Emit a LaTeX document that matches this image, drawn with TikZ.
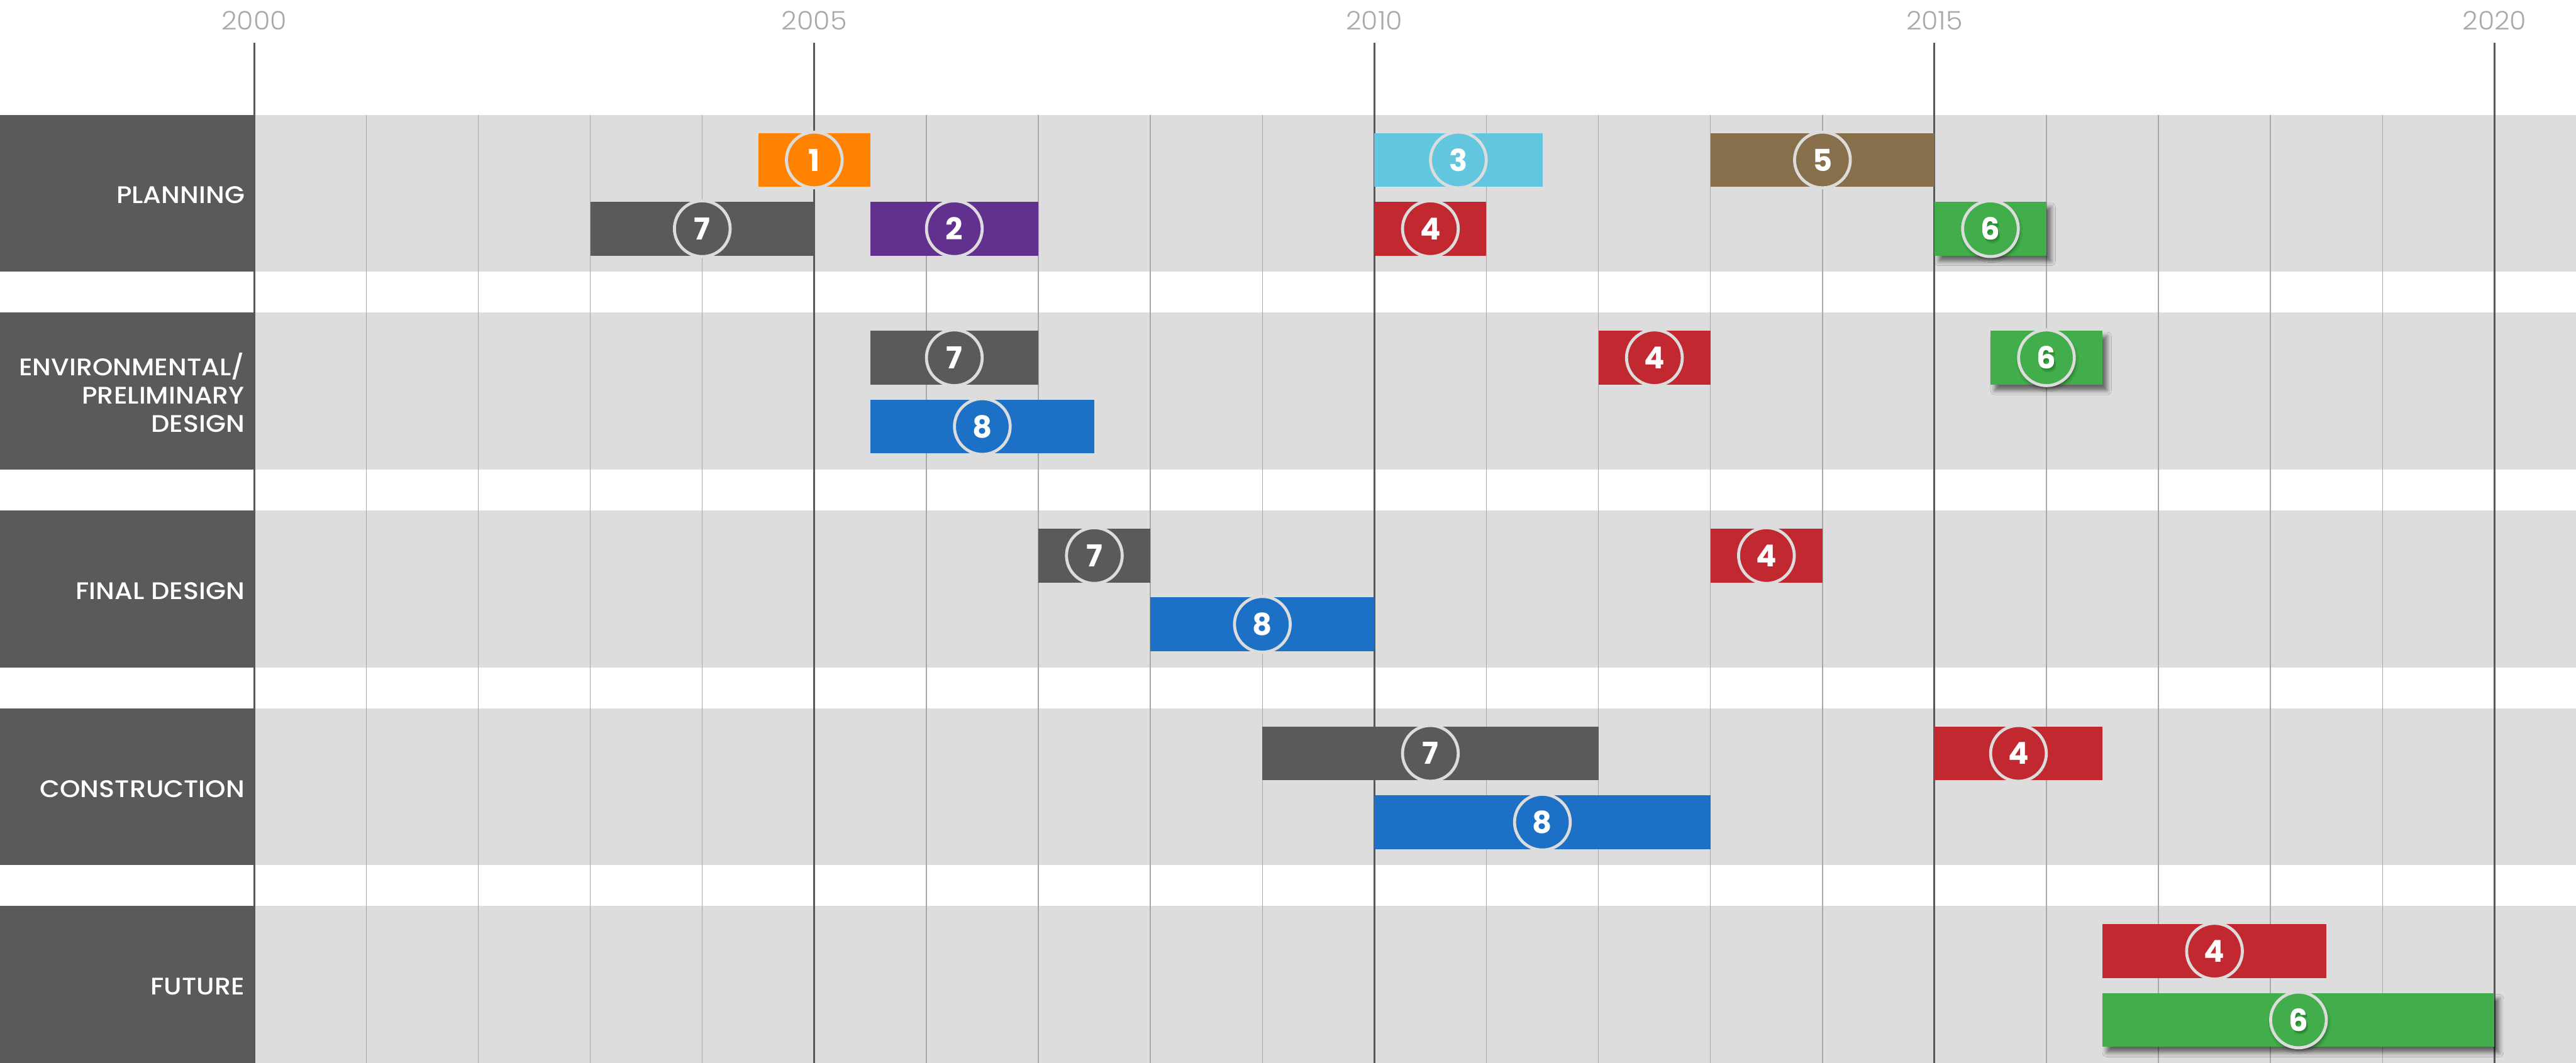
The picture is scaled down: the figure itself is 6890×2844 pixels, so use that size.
\documentclass[tikz,border=0pt]{standalone}
\usepackage{fontspec}
\setmainfont{Poppins}
\newfontfamily\yearfont{Poppins Light}[FakeStretch=1.05]
\newfontfamily\labfont{Poppins Medium}[FakeStretch=1.08]
\newfontfamily\numfont{Poppins Bold}
\usetikzlibrary{shadows.blur}
\definecolor{corange}{HTML}{FF8200}
\definecolor{cpurple}{HTML}{62308F}
\definecolor{ccyan}{HTML}{62C6DF}
\definecolor{cbrown}{HTML}{876F4B}
\definecolor{cred}{HTML}{C12830}
\definecolor{cgreen}{HTML}{41AE4B}
\definecolor{cblue}{HTML}{1C70C6}
\definecolor{cgray}{HTML}{5A5A5C}
\definecolor{bandgray}{HTML}{DDDDDD}
\definecolor{ringgray}{HTML}{DCDCDC}
\definecolor{yeargray}{HTML}{A7A9AC}
\definecolor{thingray}{HTML}{A8A8A8}
\definecolor{thickgray}{HTML}{58585A}
\tikzset{
  barbox/.style={rectangle, inner sep=0pt, minimum height=1.44cm},
  numtext/.style={text=white, font=\numfont\fontsize{23}{23}\selectfont},
  badge/.style={circle, inner sep=0pt, minimum size=1.49cm, draw=ringgray, line width=0.08cm, numtext},
  drop/.style={blur shadow={shadow xshift=0.12cm, shadow yshift=-0.15cm, shadow blur radius=0.12cm, shadow opacity=55}},
  dropc/.style={blur shadow={shadow xshift=0.03cm, shadow yshift=-0.08cm, shadow blur radius=0.08cm, shadow opacity=45}},
  digshade/.style={inner sep=0pt, font=\numfont\fontsize{23}{23}\selectfont, text=black!70!green},
  rowlabel/.style={anchor=east, inner sep=0pt, text=white, align=right, font=\labfont\fontsize{18.3}{21.5}\selectfont},
  yearlab/.style={inner sep=0pt, text=yeargray, font=\yearfont\fontsize{19.5}{19.5}\selectfont},
  thinline/.style={draw=thingray, line width=0.025cm},
  thickline/.style={draw=thickgray, line width=0.05cm},
}
% #1 name, #2 colour, #3 start, #4 end (years after 2000), #5 row, #6 sub-row, #7 digit, #8 extra style (bar), #9 extra style (badge)
\newcommand\taskbar[9]{%
  \pgfmathsetmacro\bxa{680+299.6*#3}%
  \pgfmathsetmacro\bxb{680+299.6*#4}%
  \pgfmathsetmacro\bcx{(\bxa+\bxb)/2}%
  \pgfmathsetmacro\bwid{(\bxb-\bxa)*0.01}%
  \pgfmathsetmacro\bcy{307+529.3*#5+121+184*#6}%
  \node[barbox, fill=#2, minimum width=\bwid cm, #8] (#1) at (\bcx,\bcy) {};
  \node[badge, fill=#2, #9] (#1n) at (#1.center) {#7};
}
% soft shadow under the digit of a green badge
\newcommand\digitshadow[2]{%
  \node[digshade, opacity=0.18] (#1s1) at ([shift={(5,9)}]#1n.center) {#2};
  \node[digshade, opacity=0.22] (#1s2) at ([shift={(3,5)}]#1n.center) {#2};
  \node[inner sep=0pt, numtext] (#1d) at (#1n.center) {#2};
}
\begin{document}
\begin{tikzpicture}[x=0.01cm,y=-0.01cm]
\useasboundingbox (0,0) rectangle (6890,2844);
% bands and label boxes
\foreach \r in {0,...,4}{
  \fill[bandgray] (680,{307+529.3*\r}) rectangle (6890,{727+529.3*\r});
  \fill[cgray] (0,{307+529.3*\r}) rectangle (680,{727+529.3*\r});
}
% thin year lines
\foreach \k in {1,2,3,4,6,7,8,9,11,12,13,14,16,17,18,19}{
  \draw[thinline] ({680+299.6*\k},307) -- ({680+299.6*\k},2844);
}
% thick lines and year labels
\foreach \k/\yy in {0/2000,5/2005,10/2010,15/2015,20/2020}{
  \draw[thickline] ({680+299.6*\k},114) -- ({680+299.6*\k},2844);
  \node[yearlab] (y\yy) at ({680+299.6*\k},55) {\yy};
}
% row labels
\node[rowlabel] (l0) at (655,521) {PLANNING};
\node[rowlabel] (l1) at (655,1051) {ENVIRONMENTAL/\\PRELIMINARY\\DESIGN};
\node[rowlabel] (l2) at (655,1581) {FINAL DESIGN};
\node[rowlabel] (l3) at (655,2111) {CONSTRUCTION};
\node[rowlabel] (l4) at (655,2640) {FUTURE};
% planning
\taskbar{pA}{corange}{4.5}{5.5}{0}{0}{1}{}{}
\taskbar{pB}{ccyan}{10}{11.5}{0}{0}{3}{}{}
\taskbar{pC}{cbrown}{13}{15}{0}{0}{5}{}{}
\taskbar{pD}{cgray}{3}{5}{0}{1}{7}{}{}
\taskbar{pE}{cpurple}{5.5}{7}{0}{1}{2}{}{}
\taskbar{pF}{cred}{10}{11}{0}{1}{4}{}{}
\taskbar{pG}{cgreen}{15}{16}{0}{1}{6}{drop}{dropc}
\digitshadow{pG}{6}
% environmental / preliminary design
\taskbar{eA}{cgray}{5.5}{7}{1}{0}{7}{}{}
\taskbar{eB}{cblue}{5.5}{7.5}{1}{1}{8}{}{}
\taskbar{eC}{cred}{12}{13}{1}{0}{4}{}{}
\taskbar{eD}{cgreen}{15.5}{16.5}{1}{0}{6}{drop}{dropc}
\digitshadow{eD}{6}
% final design
\taskbar{fA}{cgray}{7}{8}{2}{0}{7}{}{}
\taskbar{fB}{cblue}{8}{10}{2}{1}{8}{}{}
\taskbar{fC}{cred}{13}{14}{2}{0}{4}{}{}
% construction
\taskbar{cA}{cgray}{9}{12}{3}{0}{7}{}{}
\taskbar{cB}{cblue}{10}{13}{3}{1}{8}{}{}
\taskbar{cC}{cred}{15}{16.5}{3}{0}{4}{}{}
% future
\taskbar{uA}{cred}{16.5}{18.5}{4}{0}{4}{}{}
\taskbar{uB}{cgreen}{16.5}{20}{4}{1}{6}{drop}{dropc}
\digitshadow{uB}{6}
\end{tikzpicture}
\end{document}
